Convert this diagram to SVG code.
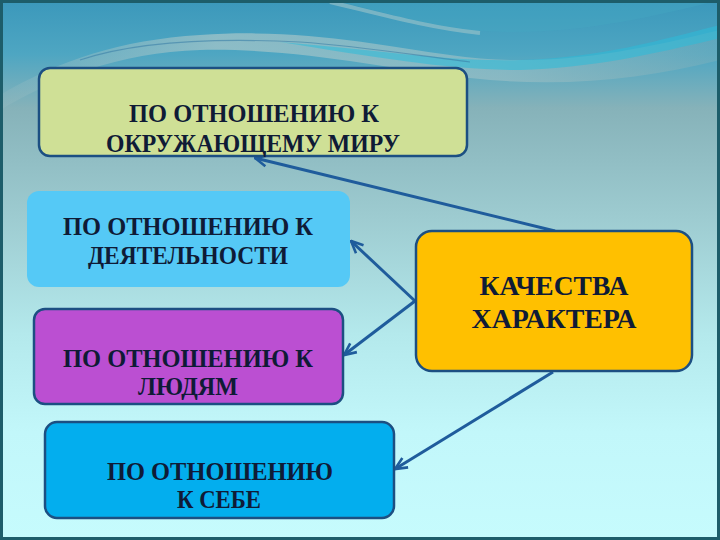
<svg xmlns="http://www.w3.org/2000/svg" width="720" height="540" viewBox="0 0 720 540">
<defs>
<linearGradient id="bg" x1="0" y1="0" x2="0" y2="1">
<stop offset="0" stop-color="#3b98bb"/>
<stop offset="0.1" stop-color="#4ea6c2"/>
<stop offset="0.2" stop-color="#86b2b9"/>
<stop offset="0.4" stop-color="#9dcbd0"/>
<stop offset="0.62" stop-color="#b4e9ec"/>
<stop offset="0.8" stop-color="#c2f7fa"/>
<stop offset="1" stop-color="#c6fbfd"/>
</linearGradient>
<linearGradient id="band" x1="0" y1="0" x2="1" y2="0">
<stop offset="0" stop-color="#9fc0c4" stop-opacity="0.2"/>
<stop offset="0.3" stop-color="#a9c7c9" stop-opacity="0.7"/>
<stop offset="0.7" stop-color="#9fc1c6" stop-opacity="0.6"/>
<stop offset="1" stop-color="#8fb3b8" stop-opacity="0.3"/>
</linearGradient>
<marker id="ah" viewBox="0 0 14 14" refX="13" refY="7" markerWidth="14" markerHeight="14" markerUnits="userSpaceOnUse" orient="auto">
<path d="M1,1.5 L13,7 L1,12.5" fill="none" stroke="#1f5c9c" stroke-width="2.6"/>
</marker>
<style>
.lbl{font-family:"Liberation Serif","Times New Roman",serif;font-weight:bold;fill:#0f1b36;text-anchor:middle}
.box{stroke:#1c4f82;stroke-width:2.5}
.conn{stroke:#1f5c9c;stroke-width:3;fill:none;marker-end:url(#ah)}
</style>
</defs>
<rect x="0" y="0" width="720" height="540" fill="url(#bg)"/>
<path d="M0,95 C60,60 120,40 200,35 C300,28 380,45 450,55 C540,68 620,55 720,30 L720,60 C640,80 560,88 470,78 C380,68 300,48 200,50 C120,52 50,80 0,110 Z" fill="url(#band)"/>
<path d="M280,42 C380,50 450,62 520,60 C600,58 660,40 720,25 L720,38 C650,55 590,68 520,70 C450,70 380,58 280,42 Z" fill="#2cbcd8" opacity="0.55"/>
<path d="M330,0 C380,10 420,25 470,30 C560,38 640,20 720,0 Z" fill="#45a8c4" opacity="0.35"/>
<path d="M330,2 C380,14 430,28 480,33" fill="none" stroke="#9fc4c9" stroke-width="4" opacity="0.6"/>
<path d="M80,60 C140,40 220,38 300,42 C360,46 420,56 470,62" fill="none" stroke="#3b7fa6" stroke-width="1.2" opacity="0.6"/>
<rect x="1.5" y="1.5" width="717" height="537" fill="none" stroke="#1d5d6a" stroke-width="3"/>

<g id="connectors">
<line class="conn" x1="555" y1="231" x2="255" y2="158"/>
<line class="conn" x1="415" y1="301" x2="351" y2="241"/>
<line class="conn" x1="415" y1="301" x2="344" y2="355"/>
<line class="conn" x1="553" y1="372" x2="395" y2="469"/>
</g>

<g id="node-world">
<rect class="box" x="39" y="68" width="428" height="88" rx="11" fill="#cfe096"/>
<text class="lbl" x="254" y="122" font-size="25" textLength="250" lengthAdjust="spacingAndGlyphs">ПО ОТНОШЕНИЮ К</text>
<text class="lbl" x="253" y="152" font-size="25" textLength="294" lengthAdjust="spacingAndGlyphs">ОКРУЖАЮЩЕМУ МИРУ</text>
</g>

<g id="node-activity">
<rect x="27" y="191" width="323" height="96" rx="12" fill="#55c9f6"/>
<text class="lbl" x="188" y="235" font-size="25" textLength="250" lengthAdjust="spacingAndGlyphs">ПО ОТНОШЕНИЮ К</text>
<text class="lbl" x="188" y="264" font-size="25" textLength="200" lengthAdjust="spacingAndGlyphs">ДЕЯТЕЛЬНОСТИ</text>
</g>

<g id="node-people">
<rect class="box" x="34" y="309" width="309" height="95" rx="11" fill="#bb4fd2"/>
<text class="lbl" x="188" y="367" font-size="25" textLength="250" lengthAdjust="spacingAndGlyphs">ПО ОТНОШЕНИЮ К</text>
<text class="lbl" x="188" y="395" font-size="25" textLength="100" lengthAdjust="spacingAndGlyphs">ЛЮДЯМ</text>
</g>

<g id="node-self">
<rect class="box" x="45" y="422" width="349" height="96" rx="12" fill="#03aeee"/>
<text class="lbl" x="220" y="480" font-size="25" textLength="226" lengthAdjust="spacingAndGlyphs">ПО ОТНОШЕНИЮ</text>
<text class="lbl" x="219" y="508" font-size="25" textLength="84" lengthAdjust="spacingAndGlyphs">К СЕБЕ</text>
</g>

<g id="node-qualities">
<rect class="box" x="416" y="231" width="276" height="140" rx="16" fill="#ffc000"/>
<text class="lbl" x="554" y="295" font-size="27" textLength="149" lengthAdjust="spacingAndGlyphs">КАЧЕСТВА</text>
<text class="lbl" x="554" y="328" font-size="27" textLength="165" lengthAdjust="spacingAndGlyphs">ХАРАКТЕРА</text>
</g>
</svg>
